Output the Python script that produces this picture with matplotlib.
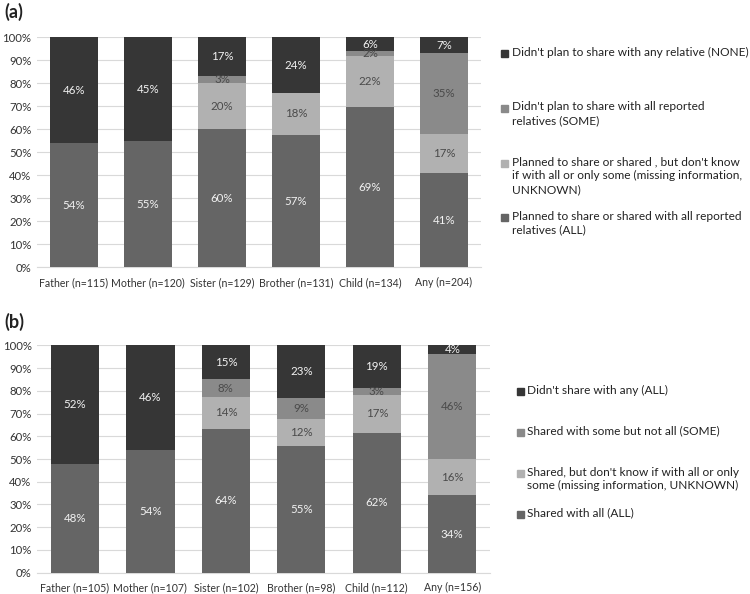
import matplotlib
matplotlib.use("Agg")
import matplotlib.pyplot as plt
from matplotlib.patches import Rectangle
import numpy as np

plt.rcParams['font.family'] = ['Lato', 'DejaVu Sans']

# ---- data ----
cats_a = ["Father (n=115)", "Mother (n=120)", "Sister (n=129)", "Brother (n=131)", "Child (n=134)", "Any (n=204)"]
all_a = [54, 55, 60, 57, 69, 41]
unknown_a = [0, 0, 20, 18, 22, 17]
some_a = [0, 0, 3, 0, 2, 35]
none_a = [46, 45, 17, 24, 6, 7]
legend_a = ["Didn't plan to share with any relative (NONE)",
            "Didn't plan to share with all reported\nrelatives (SOME)",
            "Planned to share or shared , but don't know\nif with all or only some (missing information,\nUNKNOWN)",
            "Planned to share or shared with all reported\nrelatives (ALL)"]

cats_b = ["Father (n=105)", "Mother (n=107)", "Sister (n=102)", "Brother (n=98)", "Child (n=112)", "Any (n=156)"]
all_b = [48, 54, 64, 55, 62, 34]
unknown_b = [0, 0, 14, 12, 17, 16]
some_b = [0, 0, 8, 9, 3, 46]
none_b = [52, 46, 15, 23, 19, 4]
legend_b = ["Didn't share with any (ALL)",
            "Shared with some but not all (SOME)",
            "Shared, but don't know if with all or only\nsome (missing information, UNKNOWN)",
            "Shared with all (ALL)"]

yticks = [0, 10, 20, 30, 40, 50, 60, 70, 80, 90, 100]

# ---- styles ----
col_all = "#656565"
col_unk = "#b1b1b1"
col_some = "#8a8a8a"
col_none = "#363636"
txt_light = "#f2f2f2"
txt_dark = "#4a4a4a"

W, H = 750, 594
fig = plt.figure(figsize=(W / 100, H / 100), dpi=100)


def panel(rect, cats, series, legend_labels, legend_pos, sq_x, txt_x, tag, tag_y):
    ax = fig.add_axes([rect[0] / W, 1 - rect[3] / H, (rect[1] - rect[0]) / W, (rect[3] - rect[2]) / H])
    x = np.arange(len(cats))
    vals = np.array(series, dtype=float)  # order: all, unknown, some, none
    totals = vals.sum(axis=0)
    heights = vals / totals * 100
    colors = [col_all, col_unk, col_some, col_none]
    tcols = [txt_light, txt_dark, txt_dark, txt_light]
    bottom = np.zeros(len(cats))
    for i in range(4):
        ax.bar(x, heights[i], bottom=bottom, width=0.64, color=colors[i], zorder=3)
        for j in range(len(cats)):
            if vals[i][j] > 0:
                ax.text(x[j], bottom[j] + heights[i][j] / 2, f"{int(vals[i][j])}%",
                        ha='center', va='center', fontsize=8.3, color=tcols[i], zorder=4)
        bottom += heights[i]
    ax.set_xlim(-0.5, len(cats) - 0.5)
    ax.set_ylim(0, 100)
    ax.set_yticks(yticks)
    ax.set_yticklabels([f"{t}%" for t in yticks])
    ax.set_xticks(x)
    ax.set_xticklabels(cats)
    ax.grid(axis='y', color='#d9d9d9', linewidth=0.8, zorder=0)
    for s in ['top', 'right', 'left']:
        ax.spines[s].set_visible(False)
    ax.spines['bottom'].set_color('#d9d9d9')
    ax.tick_params(length=0, labelsize=8.2, colors='#333333')
    ax.tick_params(axis='x', pad=7, labelsize=7.6)
    ax.tick_params(axis='y', pad=4)
    # legend (top to bottom: NONE, SOME, UNKNOWN, ALL)
    leg_cols = [col_none, col_some, col_unk, col_all]
    for lab, ypix, c in zip(legend_labels, legend_pos, leg_cols):
        fig.patches.append(Rectangle((sq_x / W, 1 - (ypix + 3.5) / H), 7 / W, 7 / H,
                                     transform=fig.transFigure, color=c, figure=fig))
        fig.text(txt_x / W, 1 - (ypix - 6.5) / H, lab, ha='left', va='top', fontsize=8.6,
                 color='#222222', linespacing=1.3)
    fig.text(4 / W, 1 - tag_y / H, tag, ha='left', va='center', fontsize=13,
             fontweight='bold', color='#222222')
    return ax


panel((37, 481, 37.3, 267.3), cats_a, [all_a, unknown_a, some_a, none_a], legend_a,
      [53, 108, 163, 217], 501, 512, "(a)", 12)
panel((37.2, 490, 345.3, 572.7), cats_b, [all_b, unknown_b, some_b, none_b], legend_b,
      [391, 432, 473, 514], 517, 527, "(b)", 322)

fig.savefig("out.png", dpi=100, facecolor='white')
